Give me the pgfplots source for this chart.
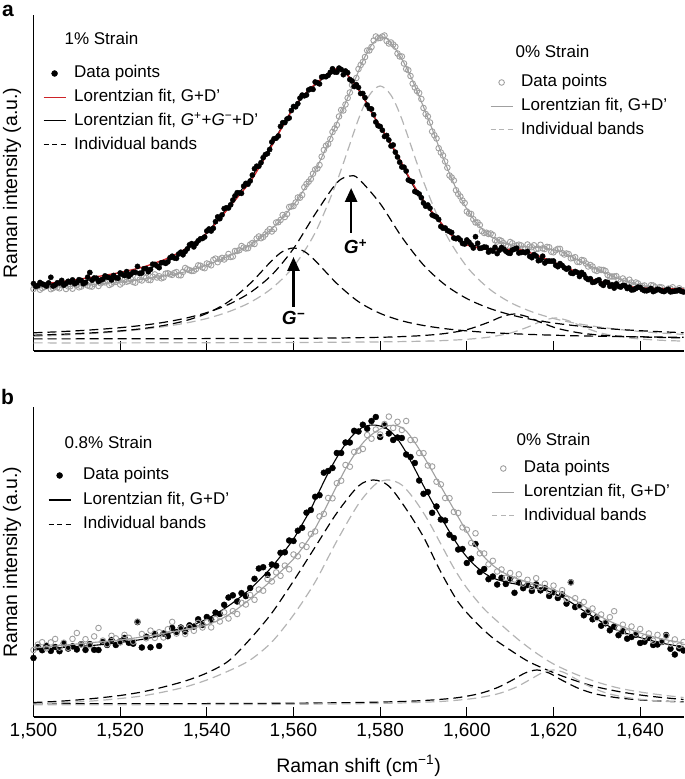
\documentclass[border=0pt]{standalone}
\usepackage{fontspec}
\setmainfont{Liberation Sans}
\usepackage{pgfplots}
\pgfplotsset{compat=1.18}
\usetikzlibrary{arrows.meta}

\definecolor{lgray}{RGB}{160,160,160}
\definecolor{dgray}{RGB}{180,180,180}
\definecolor{fitred}{RGB}{205,35,40}

\tikzset{
  bdash/.style={draw=black, line width=1.2pt, dash pattern=on 9pt off 5pt},
  gdash/.style={draw=dgray, line width=1.2pt, dash pattern=on 9pt off 5pt},
}
\pgfplotsset{
  panel/.style={scale only axis, width=650pt, xmin=1500, xmax=1650, ymin=0,
    enlargelimits=false, clip=false, legend cell align=left},
  mainax/.style={panel, axis x line*=bottom, axis y line*=left,
    axis line style={-, line width=1.1pt},
    xtick={1500,1520,...,1640}, ytick=\empty,
    tick align=inside, major tick length=10pt,
    tick style={line width=1.1pt, black},
    ylabel={Raman intensity (a.u.)},
    ylabel style={at={(axis description cs:-0.033,0.5)}, anchor=center,
      font=\fontsize{19.5}{20}\selectfont}},
  ghost/.style={panel, hide axis},
  leg/.style={draw=none, fill=none, inner sep=0pt, outer sep=0pt, row sep=7.7pt,
    column sep=8pt, font=\fontsize{17}{20}\selectfont,
    nodes={inner sep=0pt, text height=12.5pt, text depth=3.5pt}},
  bdots/.style={only marks, mark=*, mark size=3pt, black},
  gdots/.style={only marks, mark=o, mark size=2.8pt, lgray, mark options={line width=0.9pt}},
}
\newcommand{\legdot}{\path[draw=none, fill=none] (0pt,0pt) -- (22pt,0pt); \path[draw=none, fill=none, only marks, mark=*, mark size=3pt, mark options={draw=black, fill=black}] plot coordinates {(11pt,0pt)};}
\newcommand{\legcirc}{\path[draw=none, fill=none] (0pt,0pt) -- (22pt,0pt); \path[draw=none, fill=none, only marks, mark=o, mark size=2.8pt, mark options={draw=lgray, line width=0.9pt}] plot coordinates {(11pt,0pt)};}

\begin{document}
\begin{tikzpicture}
\useasboundingbox (0,0) rectangle (685pt,779pt);

% ---------------- panel a : 0% strain (grey) + axes
\begin{axis}[mainax, at={(33.5pt,428pt)}, anchor=south west, height=336pt, ymax=336,
  xticklabels={},
  legend style={leg, at={(axis cs:1605.35,276.5)}, anchor=north west}]
\addlegendimage{legend image code/.code={\legcirc}}
\addlegendentry{Data points}
\addlegendimage{legend image code/.code={\draw[draw=lgray, line width=1.1pt] (0pt,0pt) -- (22pt,0pt);}}
\addlegendentry{Lorentzian fit, G+D’}
\addlegendimage{legend image code/.code={\draw[gdash, dash pattern=on 5pt off 3.5pt] (0pt,0pt) -- (22pt,0pt);}}
\addlegendentry{Individual bands}
% bands
\addplot[gdash, smooth, forget plot] coordinates {(1500,14.6)(1505,15.5)(1510,16.6)(1515,17.9)(1520,19.5)(1525,21.6)(1530,24.3)(1535,27.8)(1540,32.5)(1545,39.2)(1550,48.6)(1555,62.7)(1560,84.3)(1565,118.3)(1570,169.4)(1575,231.9)(1577.5,255.8)(1580,265)(1582.5,255.8)(1585,231.9)(1590,169.4)(1595,118.3)(1600,84.3)(1605,62.7)(1610,48.6)(1615,39.2)(1620,32.5)(1625,27.8)(1630,24.3)(1635,21.6)(1640,19.5)(1645,17.9)(1650,16.6)};
\addplot[gdash, smooth, forget plot] coordinates {(1500,8.1)(1520,8.1)(1540,8.3)(1560,8.5)(1580,9.1)(1590,9.8)(1595,10.5)(1600,11.7)(1605,13.8)(1610,17.9)(1614,23.8)(1617.5,30.2)(1620.5,33)(1623.5,30.2)(1627,23.8)(1631,17.9)(1636,13.8)(1641,11.7)(1646,10.5)(1650,9.9)};
% fit
\addplot[lgray, line width=1.1pt, smooth, forget plot] coordinates {(1500,63.0)(1502,63.4)(1504,63.8)(1506,64.2)(1508,64.6)(1510,65.0)(1512,65.8)(1514,66.6)(1516,67.4)(1518,68.2)(1520,69.0)(1522,70.0)(1524,71.0)(1526,72.2)(1528,73.6)(1530,75.0)(1532,76.6)(1534,78.2)(1536,80.3)(1538,83.1)(1540,86.0)(1542,89.4)(1544,93.0)(1546,97.0)(1548,101.5)(1550,106.0)(1552,112.0)(1554,118.5)(1556,126.5)(1558,136.0)(1560,146.0)(1562,158.5)(1564,172.5)(1566,189.0)(1568,208.0)(1570,228.0)(1572,248.0)(1574,269.0)(1576,290.0)(1578,306.0)(1580,313.5)(1581,313.5)(1582,310.5)(1584,299.0)(1586,284.0)(1588,265.0)(1590,244.0)(1592,222.0)(1594,199.0)(1596,177.5)(1598,158.0)(1600,142.0)(1602,129.5)(1604,120.0)(1606,113.5)(1608,109.0)(1610,106.0)(1612,104.8)(1614,104.0)(1616,103.5)(1618,103.0)(1620,101.2)(1622,99.0)(1624,94.7)(1626,90.0)(1628,86.0)(1630,82.0)(1632,78.0)(1634,74.0)(1636,71.0)(1638,68.0)(1640,66.0)(1642,64.0)(1644,63.0)(1646,62.0)(1648,61.5)(1650,61.0)};
% data
\addplot[gdots, forget plot] coordinates {(1500,62.0)(1501,64.7)(1502,62.9)(1503,65.6)(1504,61.8)(1505,64.5)(1506,62.7)(1507,66.9)(1508,64.6)(1509,62.3)(1510,66.0)(1511,64.4)(1512,67.8)(1513,64.7)(1514,67.1)(1515,65.0)(1516,68.9)(1517,70.8)(1518,67.2)(1519,69.1)(1520,66.5)(1521,71.0)(1522,70.0)(1523,69.0)(1524,73.5)(1525,70.5)(1526,73.2)(1527,70.9)(1528,76.6)(1529,74.8)(1530,73.5)(1531,77.8)(1532,76.1)(1533,78.9)(1534,75.7)(1535,83.0)(1536,80.8)(1537,80.2)(1538,85.6)(1539,83.5)(1540,87.5)(1541,85.7)(1542,92.4)(1543,91.7)(1544,91.5)(1545,97.0)(1546,94.5)(1547,100.0)(1548,105.0)(1549,102.5)(1550,106.5)(1551,107.0)(1552,114.5)(1553,114.0)(1554,119.5)(1555,119.5)(1556,128.5)(1557,131.0)(1558,134.0)(1559,144.0)(1560,145.0)(1561,153.5)(1562,156.0)(1563,167.0)(1564,172.0)(1565,181.5)(1566,186.0)(1567,201.0)(1568,207.0)(1569,219.0)(1570,226.0)(1571,241.0)(1572,246.5)(1573,258.5)(1574,266.5)(1575,282.0)(1576,289.0)(1577,300.5)(1578,304.0)(1579,314.5)(1580,313.0)(1581,315.5)(1582,307.5)(1583,306.5)(1584,297.5)(1585,294.5)(1586,282.0)(1587,275.0)(1588,263.5)(1589,258.0)(1590,243.0)(1591,234.5)(1592,219.5)(1593,212.5)(1594,198.5)(1595,189.5)(1596,175.5)(1597,170.5)(1598,157.0)(1599,150.5)(1600,139.5)(1601,137.0)(1602,128.5)(1603,126.0)(1604,118.0)(1605,117.0)(1606,116.0)(1607,109.5)(1608,110.0)(1609,105.5)(1610,109.0)(1611,104.8)(1612,106.3)(1613,102.4)(1614,106.5)(1615,103.8)(1616,102.0)(1617,106.2)(1618,102.0)(1619,103.7)(1620,98.7)(1621,102.1)(1622,98.0)(1623,97.5)(1624,92.7)(1625,93.8)(1626,89.0)(1627,90.5)(1628,84.5)(1629,84.5)(1630,80.0)(1631,81.0)(1632,80.0)(1633,74.5)(1634,74.5)(1635,71.5)(1636,72.5)(1637,67.5)(1638,68.5)(1639,68.5)(1640,65.0)(1641,65.5)(1642,62.5)(1643,65.5)(1644,62.5)(1645,63.5)(1646,60.5)(1647,62.3)(1648,60.5)(1649,62.7)(1650,60.5)};
\addplot[gdots, forget plot] coordinates {(1500.5,64.1)(1501.5,61.3)(1502.5,64.0)(1503.5,65.7)(1504.5,62.9)(1505.5,63.6)(1506.5,65.8)(1507.5,62.0)(1508.5,64.7)(1509.5,67.4)(1510.5,63.7)(1511.5,66.6)(1512.5,65.5)(1513.5,64.4)(1514.5,68.8)(1515.5,67.7)(1516.5,68.6)(1517.5,66.0)(1518.5,68.9)(1519.5,70.8)(1520.5,68.3)(1521.5,69.3)(1522.5,71.8)(1523.5,68.3)(1524.5,71.3)(1525.5,74.4)(1526.5,71.1)(1527.5,74.3)(1528.5,73.5)(1529.5,72.7)(1530.5,77.4)(1531.5,76.7)(1532.5,78.0)(1533.5,75.8)(1534.5,79.1)(1535.5,81.7)(1536.5,80.0)(1537.5,81.9)(1538.5,85.3)(1539.5,82.8)(1540.5,86.9)(1541.5,91.1)(1542.5,88.8)(1543.5,93.1)(1544.5,93.5)(1545.5,94.0)(1546.5,100.0)(1547.5,100.8)(1548.5,103.5)(1549.5,102.8)(1550.5,108.0)(1551.5,112.5)(1552.5,112.8)(1553.5,116.5)(1554.5,121.8)(1555.5,121.8)(1556.5,128.8)(1557.5,136.0)(1558.5,137.0)(1559.5,144.5)(1560.5,148.5)(1561.5,153.3)(1562.5,163.8)(1563.5,169.3)(1564.5,177.3)(1565.5,182.5)(1566.5,194.3)(1567.5,205.3)(1568.5,212.0)(1569.5,222.5)(1570.5,234.5)(1571.5,240.5)(1572.5,253.0)(1573.5,266.0)(1574.5,273.0)(1575.5,286.0)(1576.5,294.0)(1577.5,300.5)(1578.5,310.5)(1579.5,312.8)(1580.5,314.5)(1581.5,310.0)(1582.5,308.5)(1583.5,304.3)(1584.5,294.5)(1585.5,287.5)(1586.5,280.8)(1587.5,267.3)(1588.5,260.0)(1589.5,252.0)(1590.5,237.0)(1591.5,228.5)(1592.5,215.8)(1593.5,202.8)(1594.5,195.5)(1595.5,183.3)(1596.5,173.5)(1597.5,160.8)(1598.5,154.5)(1599.5,148.0)(1600.5,137.5)(1601.5,131.8)(1602.5,128.5)(1603.5,119.8)(1604.5,118.3)(1605.5,117.5)(1606.5,110.8)(1607.5,111.0)(1608.5,107.8)(1609.5,104.8)(1610.5,107.7)(1611.5,105.6)(1612.5,105.6)(1613.5,102.2)(1614.5,104.4)(1615.5,105.7)(1616.5,102.4)(1617.5,102.6)(1618.5,104.1)(1619.5,99.2)(1620.5,100.7)(1621.5,102.1)(1622.5,96.5)(1623.5,96.9)(1624.5,93.0)(1625.5,89.2)(1626.5,91.0)(1627.5,87.5)(1628.5,86.0)(1629.5,81.0)(1630.5,81.5)(1631.5,81.0)(1632.5,76.0)(1633.5,74.5)(1634.5,74.8)(1635.5,69.3)(1636.5,70.3)(1637.5,71.3)(1638.5,66.0)(1639.5,67.5)(1640.5,65.0)(1641.5,62.5)(1642.5,65.8)(1643.5,63.8)(1644.5,63.8)(1645.5,60.3)(1646.5,62.4)(1647.5,63.7)(1648.5,60.4)(1649.5,60.6)};
\node[anchor=west, font=\fontsize{17}{20}\selectfont] at (axis cs:1610.43,300) {0\% Strain};
\end{axis}

% ---------------- panel a : 1% strain (black)
\begin{axis}[ghost, at={(33.5pt,428pt)}, anchor=south west, height=336pt, ymax=336,
  legend style={leg, at={(axis cs:1502.19,285.5)}, anchor=north west}]
\addlegendimage{legend image code/.code={\legdot}}
\addlegendentry{Data points}
\addlegendimage{legend image code/.code={\draw[draw=fitred, line width=1.2pt] (0pt,0pt) -- (22pt,0pt);}}
\addlegendentry{Lorentzian fit, G+D’}
\addlegendimage{legend image code/.code={\draw[draw=black, line width=1.1pt] (0pt,0pt) -- (22pt,0pt);}}
\addlegendentry{Lorentzian fit, \textit{G}\textsuperscript{+}+\textit{G}\textsuperscript{−}+D’}
\addlegendimage{legend image code/.code={\draw[bdash, dash pattern=on 5pt off 3.5pt] (0pt,0pt) -- (22pt,0pt);}}
\addlegendentry{Individual bands}
% bands G-, G+, D'
\addplot[bdash, smooth, forget plot] coordinates {(1500,15.8)(1505,16.5)(1510,17.4)(1515,18.5)(1520,20.1)(1525,22.3)(1530,25.5)(1535,30.2)(1540,37.6)(1545,49.3)(1550,67.5)(1555,90.4)(1557.5,99.5)(1560,103)(1562.5,99.5)(1565,90.4)(1570,67.5)(1575,49.3)(1580,37.6)(1585,30.2)(1590,25.5)(1595,22.3)(1600,20.1)(1605,18.5)(1610,17.4)(1615,16.5)(1620,15.8)(1625,15.2)(1630,14.8)(1635,14.5)(1640,14.2)(1645,13.9)(1650,13.7)};
\addplot[bdash, smooth, forget plot] coordinates {(1500,18.2)(1505,19.1)(1510,20.2)(1515,21.6)(1520,23.3)(1525,25.6)(1530,28.6)(1535,32.7)(1540,38.4)(1545,46.5)(1550,58.4)(1555,76.1)(1560,102.4)(1565,137)(1570,168.3)(1573,175)(1575,172.3)(1580,147.4)(1585,113.9)(1590,86)(1595,66.1)(1600,52.4)(1605,43)(1610,36.3)(1615,31.5)(1620,28)(1625,25.3)(1630,23.2)(1635,21.6)(1640,20.3)(1645,19.2)(1650,18.3)};
\addplot[bdash, smooth, forget plot] coordinates {(1500,12.1)(1520,12.2)(1540,12.4)(1550,12.5)(1560,12.7)(1570,13.0)(1580,13.7)(1585,14.4)(1590,15.5)(1595,17.5)(1600,21.3)(1605,28.7)(1608,34.2)(1611,37)(1614,34.2)(1617,28.7)(1621,22.5)(1626,18.1)(1631,15.8)(1636,14.6)(1641,13.9)(1650,13.1)};
% data
\addplot[bdots, mark size=2.6pt, forget plot] coordinates {(1500,67.5)(1501,65.3)(1502,67.1)(1503,64.9)(1504,73.7)(1505,66.0)(1506,67.9)(1507,65.8)(1508,69.7)(1509,71.1)(1510,68.5)(1511,70.5)(1512,68.5)(1513,78.5)(1514,73.0)(1515,69.5)(1516,71.7)(1517,73.9)(1518,71.1)(1519,73.3)(1520,78.0)(1521,75.4)(1522,74.8)(1523,78.7)(1524,84.6)(1525,78.0)(1526,82.4)(1527,81.5)(1528,86.6)(1529,83.3)(1530,88.5)(1531,89.1)(1532,94.8)(1533,92.7)(1534,98.8)(1535,99.5)(1536,106.2)(1537,104.1)(1538,110.2)(1539,112.5)(1540,120.0)(1541,120.0)(1542,129.3)(1543,132.3)(1544,142.4)(1545,143.0)(1546,150.9)(1547,158.3)(1548,157.7)(1549,167.6)(1550,170.0)(1551,182.3)(1552,184.8)(1553,193.3)(1554,197.4)(1555,209.0)(1556,212.8)(1557,224.6)(1558,228.4)(1559,233.0)(1560,244.5)(1561,247.4)(1562,255.9)(1563,256.0)(1564,262.2)(1565,269.0)(1566,267.1)(1567,274.4)(1568,275.7)(1569,282.2)(1570,278.8)(1571,281.5)(1572,280.0)(1573,271.5)(1574,264.5)(1575,263.5)(1576,257.5)(1577,246.0)(1578,242.0)(1579,229.0)(1580,224.5)(1581,214.5)(1582,211.0)(1583,206.0)(1584,194.0)(1585,184.0)(1586,180.0)(1587,170.0)(1588,159.5)(1589,157.0)(1590,148.0)(1591,146.0)(1592,136.0)(1593,134.0)(1594,124.5)(1595,123.0)(1596,119.5)(1597,113.0)(1598,113.0)(1599,107.5)(1600,111.0)(1601,106.1)(1602,114.3)(1603,102.6)(1604,104.0)(1605,98.9)(1606,99.9)(1607,97.4)(1608,103.5)(1609,99.8)(1610,97.6)(1611,101.9)(1612,98.0)(1613,99.0)(1614,99.5)(1615,93.3)(1616,95.0)(1617,91.0)(1618,88.0)(1619,90.0)(1620,90.0)(1621,84.3)(1622,85.5)(1623,81.8)(1624,78.0)(1625,79.5)(1626,74.5)(1627,76.5)(1628,71.5)(1629,68.6)(1630,70.3)(1631,67.1)(1632,69.0)(1633,64.7)(1634,62.9)(1635,64.7)(1636,65.5)(1637,62.5)(1638,61.0)(1639,62.5)(1640,63.5)(1641,60.3)(1642,61.1)(1643,59.4)(1644,61.7)(1645,60.0)(1646,60.8)(1647,59.1)(1648,59.9)(1649,61.2)(1650,59.0)};
\addplot[bdots, mark size=2.6pt, forget plot] coordinates {(1500.5,64.7)(1501.5,68.5)(1502.5,66.3)(1503.5,68.1)(1504.5,64.9)(1505.5,68.2)(1506.5,70.6)(1507.5,67.5)(1508.5,68.9)(1509.5,67.3)(1510.5,71.3)(1511.5,67.3)(1512.5,73.8)(1513.5,70.8)(1514.5,72.8)(1515.5,70.9)(1516.5,75.1)(1517.5,73.3)(1518.5,75.5)(1519.5,72.7)(1520.5,76.5)(1521.5,79.4)(1522.5,76.8)(1523.5,78.7)(1524.5,77.6)(1525.5,82.2)(1526.5,79.2)(1527.5,86.8)(1528.5,85.0)(1529.5,88.2)(1530.5,87.6)(1531.5,93.2)(1532.5,93.0)(1533.5,97.0)(1534.5,96.2)(1535.5,102.1)(1536.5,107.4)(1537.5,107.4)(1538.5,112.1)(1539.5,114.0)(1540.5,122.0)(1541.5,122.7)(1542.5,134.1)(1543.5,136.1)(1544.5,143.2)(1545.5,146.2)(1546.5,155.1)(1547.5,158.0)(1548.5,164.9)(1549.5,166.8)(1550.5,175.9)(1551.5,184.8)(1552.5,188.3)(1553.5,196.4)(1554.5,201.5)(1555.5,212.2)(1556.5,215.0)(1557.5,228.3)(1558.5,232.0)(1559.5,240.5)(1560.5,244.2)(1561.5,252.9)(1562.5,255.2)(1563.5,261.1)(1564.5,261.6)(1565.5,268.3)(1566.5,274.0)(1567.5,274.3)(1568.5,278.7)(1569.5,279.0)(1570.5,282.9)(1571.5,276.3)(1572.5,278.3)(1573.5,270.0)(1574.5,266.3)(1575.5,257.5)(1576.5,253.3)(1577.5,242.5)(1578.5,236.3)(1579.5,225.3)(1580.5,220.8)(1581.5,215.5)(1582.5,205.0)(1583.5,198.8)(1584.5,188.8)(1585.5,183.8)(1586.5,171.0)(1587.5,169.3)(1588.5,158.5)(1589.5,153.3)(1590.5,144.8)(1591.5,142.8)(1592.5,135.0)(1593.5,131.5)(1594.5,122.8)(1595.5,120.5)(1596.5,118.5)(1597.5,112.3)(1598.5,111.0)(1599.5,107.0)(1600.5,108.8)(1601.5,103.0)(1602.5,107.7)(1603.5,103.1)(1604.5,103.7)(1605.5,100.7)(1606.5,103.7)(1607.5,100.7)(1608.5,101.9)(1609.5,98.2)(1610.5,101.0)(1611.5,102.7)(1612.5,98.5)(1613.5,98.3)(1614.5,94.7)(1615.5,96.4)(1616.5,90.3)(1617.5,94.8)(1618.5,89.8)(1619.5,89.8)(1620.5,85.7)(1621.5,87.4)(1622.5,83.2)(1623.5,82.9)(1624.5,77.5)(1625.5,78.5)(1626.5,78.5)(1627.5,73.0)(1628.5,72.3)(1629.5,69.0)(1630.5,71.2)(1631.5,65.6)(1632.5,68.6)(1633.5,66.3)(1634.5,67.1)(1635.5,63.9)(1636.5,65.3)(1637.5,63.8)(1638.5,61.3)(1639.5,63.8)(1640.5,61.4)(1641.5,60.2)(1642.5,62.5)(1643.5,60.3)(1644.5,61.1)(1645.5,59.4)(1646.5,61.7)(1647.5,59.5)(1648.5,60.3)(1649.5,59.6)};
% fits
\addplot[black, line width=1.1pt, smooth, forget plot] coordinates {(1500,66.0)(1502,66.6)(1504,67.2)(1506,67.9)(1508,68.7)(1510,69.5)(1512,70.5)(1514,71.5)(1516,72.7)(1518,74.1)(1520,75.5)(1522,77.3)(1524,79.1)(1526,81.4)(1528,84.6)(1530,88.0)(1532,92.3)(1534,97.3)(1536,103.2)(1538,110.2)(1540,118.0)(1542,128.3)(1544,139.4)(1546,150.4)(1548,161.2)(1550,172.0)(1552,185.8)(1554,199.9)(1556,214.3)(1558,228.9)(1560,243.0)(1562,253.4)(1564,262.2)(1566,269.6)(1568,277.2)(1570,281.8)(1572,277.5)(1574,268.0)(1576,255.5)(1578,239.0)(1580,224.0)(1582,209.5)(1584,195.0)(1586,178.0)(1588,162.5)(1590,149.0)(1592,138.0)(1594,128.0)(1596,117.5)(1598,112.0)(1600,108.0)(1602,105.3)(1604,103.0)(1606,101.9)(1608,101.0)(1610,100.6)(1612,100.0)(1614,97.5)(1616,94.0)(1618,91.0)(1620,88.0)(1622,84.5)(1624,81.0)(1626,77.0)(1628,73.0)(1630,70.3)(1632,68.0)(1634,66.4)(1636,65.0)(1638,64.0)(1640,63.0)(1642,62.6)(1644,62.2)(1646,61.8)(1648,61.4)(1650,61.0)};
\addplot[fitred, line width=1.3pt, smooth, forget plot] coordinates {(1500,66.5)(1502,67.1)(1504,68.0)(1506,69.0)(1508,70.3)(1510,71.5)(1512,72.8)(1514,74.0)(1516,75.3)(1518,76.9)(1520,78.5)(1522,80.5)(1524,82.5)(1526,84.9)(1528,88.0)(1530,91.0)(1532,95.0)(1534,99.5)(1536,104.8)(1538,111.2)(1540,118.0)(1542,127.3)(1544,137.6)(1546,148.0)(1548,158.5)(1550,169.0)(1552,183.0)(1554,197.5)(1556,213.0)(1558,228.5)(1560,243.0)(1562,254.0)(1564,263.0)(1566,270.6)(1568,277.8)(1570,282.3)(1572,278.0)(1574,267.5)(1576,254.5)(1578,238.5)(1580,225.0)(1582,210.5)(1584,196.0)(1586,179.2)(1588,164.0)(1590,150.5)(1592,139.0)(1594,128.5)(1596,117.5)(1598,111.0)(1600,106.0)(1602,103.8)(1604,102.0)(1606,101.4)(1608,101.5)(1610,101.6)(1612,101.5)(1614,99.3)(1616,96.0)(1618,92.6)(1620,89.0)(1622,85.3)(1624,81.6)(1626,77.4)(1628,73.3)(1630,70.3)(1632,68.0)(1634,66.3)(1636,65.0)(1638,64.0)(1640,63.0)(1642,62.7)(1644,62.5)(1646,62.3)(1648,62.1)(1650,62.0)};
\node[anchor=west, font=\fontsize{17}{20}\selectfont] at (axis cs:1506.35,313) {1\% Strain};
% band arrows
\draw[-{Triangle[length=14pt,width=12pt]}, line width=2.6pt] (axis cs:1560,44) -- (axis cs:1560,94);
\draw[-{Triangle[length=14pt,width=12pt]}, line width=2.6pt] (axis cs:1573.3,118) -- (axis cs:1573.3,163);
\node[font=\fontsize{19}{19}\selectfont\bfseries\itshape] at (axis cs:1560,33) {G\textsuperscript{−}};
\node[font=\fontsize{19}{19}\selectfont\bfseries\itshape] at (axis cs:1574.3,104) {G\textsuperscript{+}};
\end{axis}

% ---------------- panel b : 0.8% strain (black) + axes
\begin{axis}[mainax, at={(33.5pt,62pt)}, anchor=south west, height=310pt, ymax=310,
  xticklabels={{1,500},{1,520},{1,540},{1,560},{1,580},{1,600},{1,620},{1,640}},
  xticklabel style={font=\fontsize{19}{20}\selectfont, inner sep=0pt, yshift=-6pt},
  xlabel={Raman shift (cm\textsuperscript{−1})},
  xlabel style={at={(axis description cs:0.5,-0.158)}, anchor=center, font=\fontsize{19.5}{20}\selectfont},
  legend style={leg, row sep=8.5pt, column sep=12pt, at={(axis cs:1503.35,249.5)}, anchor=north west}]
\addlegendimage{legend image code/.code={\legdot}}
\addlegendentry{Data points}
\addlegendimage{legend image code/.code={\draw[draw=black, line width=1.1pt] (0pt,0pt) -- (22pt,0pt);}}
\addlegendentry{Lorentzian fit, G+D’}
\addlegendimage{legend image code/.code={\draw[bdash, dash pattern=on 5pt off 3.5pt] (0pt,0pt) -- (22pt,0pt);}}
\addlegendentry{Individual bands}
\addplot[bdash, smooth, forget plot] coordinates {(1500,14.5)(1505,15.5)(1510,17)(1515,19)(1520,21.5)(1525,25)(1530,30)(1535,36)(1540,44)(1545,56)(1550,78)(1555,104)(1560,136)(1565,170)(1570,204)(1575,231)(1578.5,237)(1582,231)(1586,208)(1590,180)(1594,145)(1598,115)(1602,95)(1606,79)(1610,67)(1614,56)(1618,48)(1622,41)(1626,35)(1630,30)(1635,25.5)(1640,22)(1645,19.5)(1650,17.5)};
\addplot[bdash, smooth, forget plot] coordinates {(1500,13.2)(1540,13.4)(1560,13.8)(1575,14.5)(1585,15.5)(1592,17)(1598,19.4)(1603,23.5)(1607,29.3)(1610.5,36.9)(1613.5,44.1)(1616.2,47)(1619,43.9)(1622,36.7)(1626,28.2)(1630,22.8)(1635,19.1)(1640,17.1)(1645,15.9)(1650,15.2)};
\addplot[bdots, forget plot] coordinates {(1500,59.0)(1501,69.9)(1502,66.8)(1503,71.2)(1504,66.1)(1505,70.0)(1506,65.8)(1507,73.6)(1508,68.4)(1509,70.7)(1510,67.5)(1511,72.8)(1512,67.1)(1513,72.9)(1514,67.2)(1515,67.0)(1516,75.0)(1517,72.0)(1518,77.0)(1519,72.0)(1520,75.5)(1521,79.1)(1522,74.2)(1523,73.3)(1524,94.9)(1525,69.5)(1526,80.3)(1527,69.7)(1528,83.1)(1529,71.0)(1530,83.5)(1531,80.8)(1532,89.1)(1533,85.0)(1534,89.5)(1535,85.5)(1536,91.7)(1537,90.4)(1538,97.7)(1539,92.1)(1540,100.0)(1541,97.4)(1542,104.4)(1543,103.0)(1544,112.2)(1545,119.5)(1546,121.7)(1547,115.5)(1548,123.9)(1549,120.9)(1550,129.0)(1551,138.2)(1552,148.5)(1553,149.8)(1554,142.3)(1555,152.5)(1556,151.3)(1557,164.2)(1558,164.7)(1559,176.5)(1560,176.0)(1561,186.3)(1562,189.2)(1563,204.3)(1564,207.0)(1565,220.2)(1566,221.8)(1567,244.3)(1568,246.0)(1569,249.0)(1570,264.0)(1571,264.0)(1572,274.5)(1573,274.5)(1574,286.2)(1575,285.5)(1576,292.3)(1577,288.3)(1578,296.0)(1579,300.0)(1580,280.0)(1581,291.5)(1582,283.5)(1583,277.0)(1584,279.5)(1585,279.0)(1586,262.5)(1587,260.0)(1588,254.0)(1589,236.5)(1590,223.2)(1591,225.0)(1592,204.2)(1593,210.5)(1594,197.5)(1595,196.5)(1596,182.2)(1597,179.0)(1598,167.5)(1599,168.0)(1600,154.0)(1601,158.3)(1602,173.0)(1603,145.0)(1604,148.0)(1605,137.8)(1606,140.5)(1607,132.5)(1608,139.2)(1609,133.0)(1610,138.5)(1611,124.2)(1612,134.5)(1613,128.8)(1614,132.0)(1615,126.1)(1616,132.6)(1617,126.6)(1618,129.0)(1619,121.0)(1620,124.8)(1621,119.0)(1622,122.5)(1623,113.4)(1624,134.7)(1625,109.9)(1626,112.0)(1627,101.7)(1628,104.9)(1629,97.7)(1630,100.0)(1631,91.3)(1632,93.7)(1633,86.7)(1634,90.5)(1635,81.8)(1636,85.8)(1637,78.3)(1638,80.0)(1639,82.2)(1640,74.0)(1641,75.2)(1642,79.0)(1643,72.0)(1644,72.5)(1645,75.0)(1646,82.0)(1647,68.2)(1648,62.5)(1649,68.7)(1650,66.5)};
\addplot[black, line width=1.1pt, smooth, forget plot] coordinates {(1500,67.0)(1502,67.8)(1504,68.6)(1506,69.3)(1508,69.9)(1510,70.5)(1512,71.1)(1514,71.7)(1516,72.5)(1518,73.5)(1520,74.5)(1522,75.7)(1524,76.9)(1526,78.3)(1528,80.1)(1530,82.0)(1532,84.6)(1534,87.5)(1536,90.7)(1538,94.2)(1540,98.0)(1542,102.9)(1544,108.2)(1546,114.2)(1548,120.9)(1550,128.0)(1552,136.5)(1554,145.3)(1556,155.3)(1558,166.2)(1560,178.0)(1562,192.7)(1564,208.0)(1566,226.3)(1568,244.0)(1570,259.5)(1572,273.0)(1574,283.2)(1576,289.8)(1578,292.0)(1580,291.0)(1582,287.0)(1584,278.0)(1586,264.5)(1588,248.0)(1590,231.2)(1592,215.2)(1594,200.0)(1596,185.2)(1598,171.5)(1600,160.0)(1602,151.0)(1604,144.0)(1606,139.0)(1608,136.2)(1610,134.0)(1612,132.5)(1614,131.0)(1616,129.1)(1618,127.0)(1620,123.8)(1622,120.0)(1624,114.7)(1626,109.0)(1628,103.4)(1630,98.0)(1632,92.7)(1634,88.0)(1636,84.8)(1638,82.0)(1640,79.5)(1642,77.0)(1644,75.0)(1646,73.0)(1648,71.5)(1650,70.0)};
\node[anchor=west, font=\fontsize{17}{20}\selectfont] at (axis cs:1506.35,275) {0.8\% Strain};
\end{axis}

% ---------------- panel b : 0% strain (grey)
\begin{axis}[ghost, at={(33.5pt,62pt)}, anchor=south west, height=310pt, ymax=310,
  legend style={leg, column sep=9pt, at={(axis cs:1605.74,256.5)}, anchor=north west}]
\addlegendimage{legend image code/.code={\legcirc}}
\addlegendentry{Data points}
\addlegendimage{legend image code/.code={\draw[draw=lgray, line width=1.1pt] (0pt,0pt) -- (22pt,0pt);}}
\addlegendentry{Lorentzian fit, G+D’}
\addlegendimage{legend image code/.code={\draw[gdash, dash pattern=on 5pt off 3.5pt] (0pt,0pt) -- (22pt,0pt);}}
\addlegendentry{Individual bands}
\addplot[gdash, smooth, forget plot] coordinates {(1500,13)(1505,14)(1510,15)(1515,16.5)(1520,18.5)(1525,21)(1530,25)(1535,30)(1540,37)(1545,46)(1550,57)(1555,75)(1560,102)(1565,135)(1570,176)(1575,213)(1579,233)(1582,237)(1585,232)(1588,217)(1591,197)(1594,173)(1597,149)(1600,129)(1604,108)(1608,92)(1612,77)(1616,64)(1620,53)(1625,43)(1630,35)(1635,29)(1640,25)(1645,22)(1650,19.5)};
\addplot[gdash, smooth, forget plot] coordinates {(1500,12.2)(1540,12.4)(1560,12.7)(1580,13.6)(1590,14.8)(1596,16.1)(1602,18.8)(1607,23)(1611,29.1)(1614.5,37.2)(1617.5,44.4)(1620,47)(1622.5,44.4)(1625.5,37.2)(1629,29.1)(1633,23)(1638,18.8)(1644,16.1)(1650,14.8)};
\addplot[lgray, line width=1.1pt, smooth, forget plot] coordinates {(1500,69.0)(1502,69.8)(1504,70.6)(1506,71.4)(1508,72.2)(1510,73.0)(1512,73.8)(1514,74.6)(1516,75.4)(1518,76.2)(1520,77.0)(1522,78.2)(1524,79.4)(1526,80.7)(1528,82.1)(1530,83.5)(1532,85.1)(1534,86.7)(1536,88.3)(1538,90.1)(1540,92.0)(1542,95.4)(1544,99.7)(1546,104.9)(1548,111.2)(1550,118.0)(1552,125.5)(1554,133.1)(1556,141.1)(1558,149.4)(1560,158.0)(1562,168.7)(1564,181.0)(1566,196.6)(1568,214.0)(1570,231.3)(1572,248.0)(1574,262.0)(1576,274.0)(1578,282.3)(1580,288.0)(1582,291.4)(1584,291.2)(1586,286.0)(1588,274.5)(1590,260.8)(1592,246.0)(1594,230.6)(1596,215.3)(1598,200.0)(1600,185.3)(1602,171.7)(1604,160.0)(1606,151.7)(1608,145.5)(1610,141.0)(1612,137.7)(1614,135.2)(1616,132.8)(1618,130.3)(1620,127.4)(1622,123.8)(1624,119.5)(1626,114.0)(1628,108.2)(1630,102.8)(1632,97.8)(1634,93.8)(1636,90.3)(1638,87.0)(1640,84.0)(1642,81.5)(1644,79.1)(1646,77.2)(1648,75.6)(1650,74.0)};
\addplot[gdots, forget plot] coordinates {(1500,67.0)(1501,72.4)(1502,74.8)(1503,68.7)(1504,74.6)(1505,78.0)(1506,69.4)(1507,74.3)(1508,69.2)(1509,78.1)(1510,84.0)(1511,72.4)(1512,77.8)(1513,71.7)(1514,80.6)(1515,89.0)(1516,76.4)(1517,72.8)(1518,81.2)(1519,78.6)(1520,74.5)(1521,82.1)(1522,79.2)(1523,75.3)(1524,95.4)(1525,83.0)(1526,78.7)(1527,86.4)(1528,79.1)(1529,84.8)(1530,79.5)(1531,87.8)(1532,95.1)(1533,83.4)(1534,88.7)(1535,83.0)(1536,89.8)(1537,86.2)(1538,94.1)(1539,89.5)(1540,95.0)(1541,89.6)(1542,97.9)(1543,95.5)(1544,104.7)(1545,98.5)(1546,105.9)(1547,103.0)(1548,114.2)(1549,112.5)(1550,122.0)(1551,117.2)(1552,127.5)(1553,126.3)(1554,138.1)(1555,135.5)(1556,144.6)(1557,141.2)(1558,151.4)(1559,147.7)(1560,162.5)(1561,160.7)(1562,171.7)(1563,170.1)(1564,183.0)(1565,185.6)(1566,200.6)(1567,203.1)(1568,219.0)(1569,218.7)(1570,233.8)(1571,236.3)(1572,252.0)(1573,250.3)(1574,265.0)(1575,266.3)(1576,268.0)(1577,282.0)(1578,278.3)(1579,287.5)(1580,282.5)(1581,293.0)(1582,300.4)(1583,289.0)(1584,295.2)(1585,287.0)(1586,296.0)(1587,277.0)(1588,277.0)(1589,264.0)(1590,263.8)(1591,251.5)(1592,250.5)(1593,235.3)(1594,232.6)(1595,219.0)(1596,218.8)(1597,205.1)(1598,204.0)(1599,189.6)(1600,187.3)(1601,174.0)(1602,183.7)(1603,163.7)(1604,163.5)(1605,152.7)(1606,156.2)(1607,145.5)(1608,147.5)(1609,139.2)(1610,144.0)(1611,137.5)(1612,142.7)(1613,133.4)(1614,137.2)(1615,130.0)(1616,138.8)(1617,129.6)(1618,133.3)(1619,125.5)(1620,131.4)(1621,123.1)(1622,126.8)(1623,118.0)(1624,134.5)(1625,118.8)(1626,111.0)(1627,115.0)(1628,106.2)(1629,108.5)(1630,98.8)(1631,102.5)(1632,94.8)(1633,99.8)(1634,105.8)(1635,89.0)(1636,92.3)(1637,84.6)(1638,90.5)(1639,83.5)(1640,88.0)(1641,79.7)(1642,83.5)(1643,76.3)(1644,82.1)(1645,75.5)(1646,81.2)(1647,73.4)(1648,77.6)(1649,71.3)(1650,75.0)};
\node[anchor=west, font=\fontsize{17}{20}\selectfont] at (axis cs:1610.66,278) {0\% Strain};
\end{axis}

\node[anchor=base west, inner sep=0pt, font=\fontsize{21}{21}\selectfont\bfseries] at (2pt,762.5pt) {a};
\node[anchor=base west, inner sep=0pt, font=\fontsize{21}{21}\selectfont\bfseries] at (1pt,374pt) {b};
\end{tikzpicture}
\end{document}
